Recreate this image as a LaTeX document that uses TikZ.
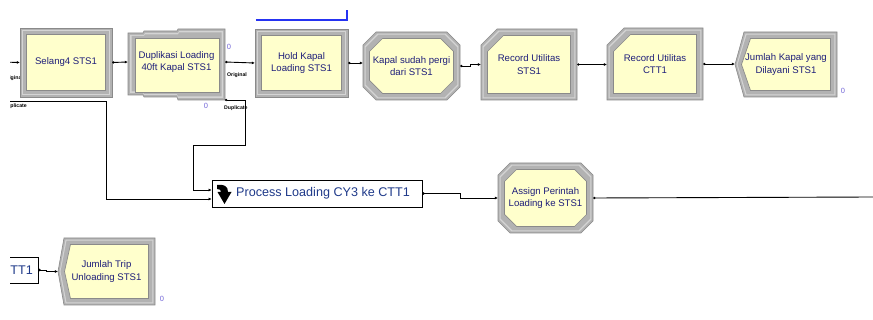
\documentclass[tikz,border=0pt]{standalone}
\usepackage{fontspec}
\setmainfont{Liberation Sans}
\usetikzlibrary{arrows.meta,calc}

\definecolor{modfill}{HTML}{FFFFCC}
\definecolor{bandc}{HTML}{B2B2B2}
\definecolor{bandedge}{HTML}{8A8A8A}
\definecolor{bandlight}{HTML}{D4D4D4}
\definecolor{modtext}{HTML}{1E1E7A}
\definecolor{proctext}{HTML}{1F3A8A}
\definecolor{countc}{HTML}{7468D8}
\definecolor{holdc}{rgb}{0.15,0.2,0.95}

% module outlines; the last argument is the inset from the outer edge
\newcommand\rectp[5]{(#1+#5,#2+#5) rectangle (#3-#5,#4-#5)}
\newcommand\octp[6]{(#1+#6+#5,#2+#6) -- (#3-#6-#5,#2+#6) -- (#3-#6,#2+#6+#5) -- (#3-#6,#4-#6-#5) -- (#3-#6-#5,#4-#6) -- (#1+#6+#5,#4-#6) -- (#1+#6,#4-#6-#5) -- (#1+#6,#2+#6+#5) -- cycle}
\newcommand\recp[6]{(#1+#6+#5,#2+#6) -- (#3-#6,#2+#6) -- (#3-#6,#4-#6) -- (#1+#6,#4-#6) -- (#1+#6,#2+#6+#5) -- cycle}
\newcommand\disp[6]{(#1+#6+#5,#2+#6) -- (#3-#6,#2+#6) -- (#3-#6,#4-#6) -- (#1+#6+#5,#4-#6) -- (#1+#6,{(#2+#4)/2}) -- cycle}

% three-layer bevelled frame
\newcommand\bevelled[1]{%
  \filldraw[fill=bandc, draw=bandedge, line width=0.6pt] #1{0};
  \fill[bandlight] #1{1.6};
  \fill[bandc] #1{2.6};
  \filldraw[fill=modfill, draw=bandedge, line width=0.7pt] #1{6.5};
}

\tikzset{
  modlabel/.style={text=modtext, font=\fontsize{9.6}{12.4}\selectfont, align=center, inner sep=0pt},
  wire/.style={draw=black, line width=0.9pt, {Circle[length=2.2pt]}-{Latex[length=3pt,width=3pt]}},
  wireout/.style={draw=black, line width=0.9pt, {Circle[length=2.2pt]}-},
  portlabel/.style={font=\bfseries\fontsize{5.2}{6}\selectfont, text=black, inner sep=0pt},
  counter/.style={font=\fontsize{7.5}{8}\selectfont, text=countc, inner sep=0pt},
  procbox/.style={draw=black, line width=0.8pt, fill=white, inner sep=0pt},
  queueline/.style={color=holdc, line width=1.5pt}
}

\begin{document}
\begin{tikzpicture}[x=1pt, y=-1pt]
\useasboundingbox (0,0) rectangle (873,320);
\fill[white] (0,0) rectangle (873,320);
\clip (10,0) rectangle (873,320);

% port label partly hidden behind the first module
\node[portlabel, anchor=west] (origL) at (3,78) {Original};

% ---- module frames ----
\bevelled{\rectp{20}{28}{112}{97}}
% separate module with stepped frame
\filldraw[fill=bandc, draw=bandedge, line width=0.6pt]
  (128,33) -- (143,33) -- (144,31) -- (177,31) -- (178,29) -- (225,29) -- (225,100)
  -- (178,100) -- (177,97) -- (144,97) -- (143,95) -- (128,95) -- cycle;
\fill[bandlight] (130,35) -- (144,35) -- (145,33) -- (178,33) -- (179,31) -- (223,31)
  -- (223,98) -- (178,98) -- (177,95) -- (144,95) -- (143,93) -- (130,93) -- cycle;
\fill[bandc] (131.5,36) -- (144,36) -- (145,34.5) -- (178,34.5) -- (179,32.5) -- (221.5,32.5)
  -- (221.5,96.5) -- (178,96.5) -- (177,94) -- (144,94) -- (143,91.5) -- (131.5,91.5) -- cycle;
\filldraw[fill=modfill, draw=bandedge, line width=0.7pt] (135,38) rectangle (219,92);
\bevelled{\rectp{255}{29}{348}{97}}
\bevelled{\octp{363}{32}{460}{100}{13}}
\bevelled{\recp{481}{29}{577}{100}{16}}
\bevelled{\recp{607}{28}{703}{100}{17}}
\bevelled{\disp{735}{32}{837}{97}{9}}
\bevelled{\octp{498}{163}{593}{233}{12}}
\bevelled{\disp{58}{238}{155}{305}{6}}

% ---- module labels (also the connection points) ----
\node[modlabel, minimum width=92pt, minimum height=69pt] (selang) at (66,62.5) {Selang4 STS1};
\node[modlabel, minimum width=97pt, minimum height=66pt] (dupl) at (176.5,62) {Duplikasi Loading\\40ft Kapal STS1};
\node[modlabel, minimum width=93pt, minimum height=68pt] (hold) at (301.5,63) {Hold Kapal\\Loading STS1};
\node[modlabel, minimum width=97pt, minimum height=68pt] (kapal) at (411.5,66) {Kapal sudah pergi\\dari STS1};
\node[modlabel, minimum width=96pt, minimum height=71pt] (recS) at (529,64.5) {Record Utilitas\\STS1};
\node[modlabel, minimum width=96pt, minimum height=72pt] (recC) at (655,64) {Record Utilitas\\CTT1};
\node[modlabel, minimum width=102pt, minimum height=65pt] (jumK) at (786,64.5) {Jumlah Kapal yang\\Dilayani STS1};
\node[modlabel, minimum width=95pt, minimum height=70pt] (assign) at (545.5,198) {Assign Perintah\\Loading ke STS1};
\node[modlabel, minimum width=97pt, minimum height=67pt] (jumT) at (106.5,271.5) {Jumlah Trip\\Unloading STS1};

% route/process box with its icon
\node[procbox, minimum width=210pt, minimum height=27pt] (proc) at (317,193.5) {};
\node[text=proctext, font=\fontsize{12.6}{14}\selectfont, inner sep=0pt, anchor=west] (proclabel) at (236,193) {Process Loading CY3 ke CTT1};
\fill[black] (217,185) .. controls (224,184) and (228,186) .. (228,192) -- (231.5,192) -- (224.5,204)
  -- (217.5,192) -- (221,192) .. controls (221,190) and (220,189) .. (217,189) -- cycle;

\node[procbox, minimum width=43pt, minimum height=26pt] (ctt) at (16.5,270) {};
\node[text=proctext, font=\fontsize{12.6}{14}\selectfont, inner sep=0pt, anchor=east] (cttlabel) at (33,270) {TT1};

% hold queue indicator
\coordinate (qa) at ($(hold.north west)+(1,-9)$);
\coordinate (qb) at ($(hold.north east)+(-1,-9)$);
\coordinate (qc) at ($(hold.north east)+(-1,-19)$);
\draw[queueline] (qa) -- (qb) -- (qc);

% counters
\node[counter] (c1) at (229,47) {0};
\node[counter] (c2) at (206,106) {0};
\node[counter] (c3) at (843,91) {0};
\node[counter] (c4) at (162,299) {0};

% port labels
\node[portlabel, anchor=west] (origR) at (227,75) {Original};
\node[portlabel, anchor=west] (dupR) at (224,108) {Duplicate};
\node[portlabel, anchor=east] (dupL) at (27,106) {Duplicate};

% ---- connectors ----
\coordinate (inS) at (0,62);
\coordinate (inD) at (0,101);
\coordinate (outR) at (873,197);
\coordinate (dupout) at (225,100);

\draw[wire] (inS) -- (selang.west);
\draw[wire] (selang.east) -- (dupl.west);
\draw[wire] (dupl.east) -- (hold.west);
\draw[wire] (hold.east) -- (kapal.west |- hold.east);
\draw[wire] (kapal.east) -- ++(10,0) |- (recS.west);
\draw[wire] (recS.east) -- (recC.west |- recS.east);
\draw[wire] (recC.east) -- (jumK.west |- recC.east);
\draw[wire] (dupout) -- ++(20,0) -- ++(0,45) -- ++(-52,0) |- ([yshift=3.5pt]proc.west);
\draw[wire] (inD) -- ++(106,0) |- ([yshift=-5.5pt]proc.west);
\draw[wire] (proc.east) -- ++(38,0) |- (assign.west);
\draw[wireout] (assign.east) -- (outR);
\draw[wire] (ctt.east) -- ++(8,0) |- (jumT.west);
\end{tikzpicture}
\end{document}
